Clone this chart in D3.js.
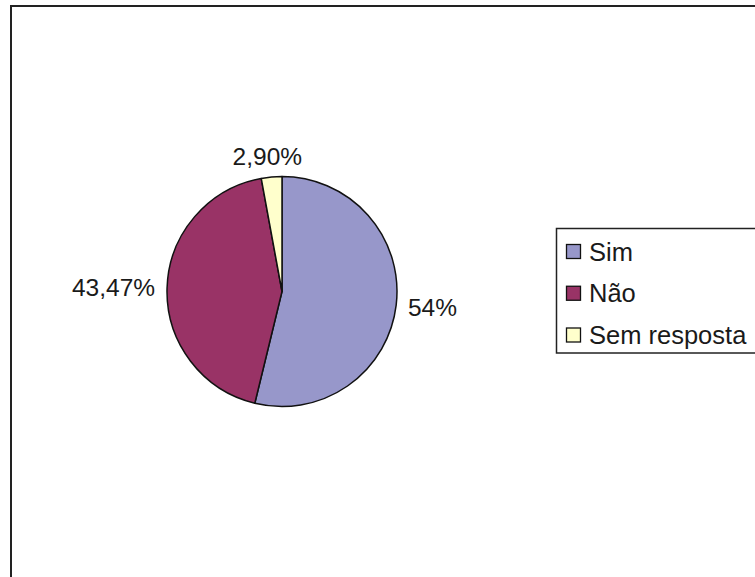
<!DOCTYPE html>
<html>
<head>
<meta charset="utf-8">
<script src="https://cdn.jsdelivr.net/npm/d3@7"></script>
<style>
  html, body { margin: 0; padding: 0; background: #fff; }
  svg { display: block; }
  text { font-family: "Liberation Sans", Arial, sans-serif; fill: #1a1a1a; }
</style>
</head>
<body>
<svg id="chart" width="755" height="577"></svg>
<script>
// Answers and their shares (percent)
const categories = ["Sim", "Não", "Sem resposta"];
const values = [54, 43.47, 2.90];
const valueLabels = ["54%", "43,47%", "2,90%"];
const colors = ["#9797ca", "#993366", "#ffffcc"];

const svg = d3.select("#chart");
const W = 755, H = 577;

// Outer chart frame (runs off the right and bottom edges)
svg.append("rect")
  .attr("x", 11).attr("y", 6)
  .attr("width", W + 20).attr("height", H + 20)
  .attr("fill", "#fff")
  .attr("stroke", "#222")
  .attr("stroke-width", 2);

// Pie
const cx = 282, cy = 291.5, r = 115;
const pie = d3.pie().sort(null).value(d => d)(values);
const arc = d3.arc().innerRadius(0).outerRadius(r);

const g = svg.append("g").attr("transform", `translate(${cx},${cy})`);
g.selectAll("path.slice")
  .data(pie)
  .join("path")
  .attr("class", "slice")
  .attr("d", arc)
  .attr("fill", (d, i) => colors[i])
  .attr("stroke", "#111")
  .attr("stroke-width", 1.5)
  .attr("stroke-linejoin", "round");

// Value labels placed just outside each slice
const gap = 12;
pie.forEach((d, i) => {
  const a = (d.startAngle + d.endAngle) / 2;
  const sx = Math.sin(a), sy = -Math.cos(a);
  const px = (r + gap) * sx, py = (r + gap) * sy;
  const t = g.append("text")
    .attr("font-size", 24.5)
    .attr("text-anchor", "middle")
    .text(valueLabels[i]);
  const bb = t.node().getBBox();
  const w = bb.width, h = 17.5;
  const ccx = px + sx * w / 2;
  const ccy = py + sy * h / 2;
  t.attr("x", ccx).attr("y", ccy + h / 2);
});

// Legend
const lg = svg.append("g");
lg.append("rect")
  .attr("x", 556.5).attr("y", 228.5)
  .attr("width", 260).attr("height", 124.5)
  .attr("fill", "#fff")
  .attr("stroke", "#222")
  .attr("stroke-width", 1.5);

const rowY = d3.scalePoint().domain(categories).range([251.5, 335]);
categories.forEach((c, i) => {
  const y = rowY(c);
  lg.append("rect")
    .attr("x", 566.5).attr("y", y - 7)
    .attr("width", 14).attr("height", 14)
    .attr("fill", colors[i])
    .attr("stroke", "#111")
    .attr("stroke-width", 1.3);
  lg.append("text")
    .attr("x", 589).attr("y", y + 9)
    .attr("font-size", 25.5)
    .text(c);
});
</script>
</body>
</html>
